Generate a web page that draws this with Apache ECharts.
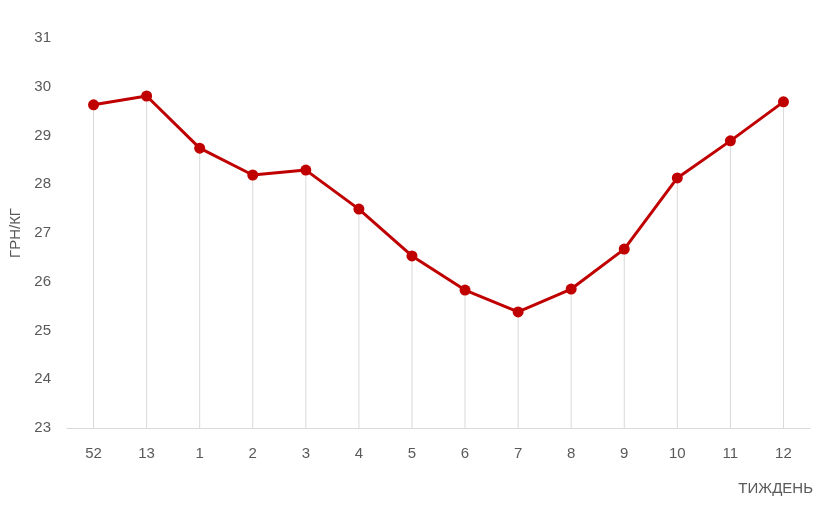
<!DOCTYPE html>
<html><head><meta charset="utf-8">
<script src="https://cdn.jsdelivr.net/npm/echarts@6/dist/echarts.min.js"></script>
<style>html,body{margin:0;padding:0;background:#fff}#c{width:840px;height:508px}</style>
</head><body><div id="c"></div>
<script>
const categories = ['52','13','1','2','3','4','5','6','7','8','9','10','11','12'];
const prices = [29.63, 29.81, 28.74, 28.19, 28.29, 27.49, 26.53, 25.83, 25.38, 25.85, 26.67, 28.13, 28.89, 29.69];
const yTicks = {min: 23, max: 31, interval: 1};
const yName = 'ГРН/КГ';
const xName = 'ТИЖДЕНЬ';

const font = 'Liberation Sans';
const chart = echarts.init(document.getElementById('c'));
chart.setOption({
  animation: false,
  grid: {left: 67, right: 30, top: 38, bottom: 80},
  title: {text: xName, right: 22, top: 476,
    textStyle: {fontFamily: font, fontSize: 15, fontWeight: 'normal', color: '#595959'}},
  xAxis: {
    type: 'category', data: categories, boundaryGap: true,
    axisLine: {lineStyle: {color: '#d9d9d9', width: 1}},
    axisTick: {show: false},
    axisLabel: {fontFamily: font, fontSize: 15, color: '#595959', margin: 18},
    splitLine: {show: false}
  },
  yAxis: {
    type: 'value', min: yTicks.min, max: yTicks.max, interval: yTicks.interval,
    name: yName, nameLocation: 'middle', nameGap: 42,
    nameTextStyle: {fontFamily: font, fontSize: 15, color: '#595959'},
    axisLine: {show: false}, axisTick: {show: false},
    axisLabel: {fontFamily: font, fontSize: 15, color: '#595959', margin: 16},
    splitLine: {show: false}
  },
  series: [
    {type: 'bar', data: prices, barWidth: 1, barGap: '-100%', silent: true,
     itemStyle: {color: '#d9d9d9'}, z: 1},
    {type: 'line', data: prices, symbol: 'circle', symbolSize: 11,
     lineStyle: {color: '#c00000', width: 3}, itemStyle: {color: '#c00000'}, z: 3}
  ]
});
</script></body></html>
